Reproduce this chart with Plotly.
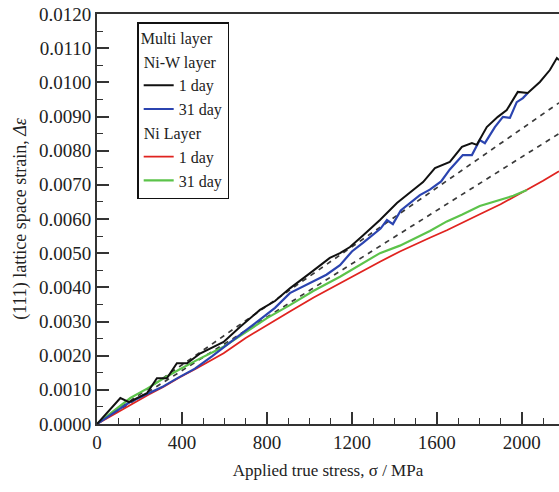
import plotly.graph_objects as go

# Ni-W layer, 1 day (black)
niw_1d_x = [0, 50, 110, 151, 235, 282, 329, 376, 424, 487, 596, 673, 767, 838, 908, 1000, 1096, 1144,
            1191, 1252, 1332, 1412, 1488, 1535, 1591, 1661, 1718, 1765, 1788, 1835, 1887, 1929, 1981,
            2028, 2085, 2132, 2165, 2175]
niw_1d_y = [0, 0.00035, 0.00076, 0.00064, 0.0009, 0.00134, 0.00134, 0.00178, 0.00178, 0.00207, 0.0024,
            0.00284, 0.00334, 0.0036, 0.00397, 0.0044, 0.00486, 0.005, 0.00518, 0.00552, 0.00597, 0.00647,
            0.00685, 0.00708, 0.00749, 0.00767, 0.00811, 0.00822, 0.00817, 0.00869, 0.00899, 0.00919,
            0.00972, 0.00969, 0.01001, 0.01036, 0.01071, 0.01065]

# Ni-W layer, 31 day (blue)
niw_31d_x = [0, 71, 150, 226, 306, 381, 461, 541, 616, 696, 776, 838, 908, 960, 1020, 1080, 1144, 1200,
             1252, 1300, 1335, 1365, 1393, 1430, 1470, 1520, 1567, 1620, 1661, 1722, 1765, 1802, 1826,
             1873, 1911, 1944, 1976, 2005, 2028]
niw_31d_y = [0, 0.0003, 0.00062, 0.00085, 0.00108, 0.00135, 0.00162, 0.00198, 0.00235, 0.00272, 0.0031,
             0.0034, 0.00383, 0.004, 0.00418, 0.00437, 0.00465, 0.00505, 0.0053, 0.00555, 0.00572, 0.00597,
             0.00585, 0.00625, 0.00645, 0.0067, 0.00686, 0.0071, 0.00745, 0.00787, 0.00787, 0.00831,
             0.00822, 0.00869, 0.00899, 0.00896, 0.00942, 0.00954, 0.00969]

# Ni layer, 1 day (red)
ni_1d_x = [0, 80, 157, 240, 314, 390, 470, 596, 700, 800, 908, 1020, 1144, 1240, 1332, 1426, 1500, 1567,
           1647, 1720, 1802, 1900, 1960, 2024, 2100, 2175]
ni_1d_y = [0, 0.00028, 0.00057, 0.00085, 0.00109, 0.00137, 0.00163, 0.00207, 0.00252, 0.00288, 0.00329,
           0.0037, 0.00412, 0.00445, 0.00475, 0.00505, 0.00527, 0.00545, 0.00567, 0.0059, 0.00614, 0.00643,
           0.00663, 0.00685, 0.00712, 0.0074]

# Ni layer, 31 day (green)
ni_31d_x = [0, 80, 157, 240, 314, 390, 470, 596, 700, 800, 908, 1020, 1144, 1240, 1332, 1426, 1500, 1567,
            1647, 1720, 1802, 1900, 1960, 2024]
ni_31d_y = [0, 0.00038, 0.00076, 0.00105, 0.00134, 0.0016, 0.00187, 0.00226, 0.0027, 0.0031, 0.00348,
            0.0039, 0.00431, 0.00465, 0.005, 0.00522, 0.00545, 0.00565, 0.00593, 0.00613, 0.00638, 0.00657,
            0.00668, 0.00685]

# dashed reference lines
fit_x = [0, 2175]
fit_upper_y = [0, 0.0094]
fit_lower_y = [0, 0.0085]

serif = "Liberation Serif, Times New Roman, serif"

fig = go.Figure()
for fy in [fit_upper_y, fit_lower_y]:
    fig.add_trace(go.Scatter(x=fit_x, y=fy, mode="lines", showlegend=False,
                             line=dict(color="#3a3a3a", width=1.7, dash="5px,5px")))

fig.add_trace(go.Scatter(x=ni_1d_x, y=ni_1d_y, mode="lines", name="1 day",
                         legendgroup="ni", legendgrouptitle_text="Ni Layer", legendrank=3,
                         line=dict(color="#e0231f", width=1.8)))
fig.add_trace(go.Scatter(x=ni_31d_x, y=ni_31d_y, mode="lines", name="31 day",
                         legendgroup="ni", legendrank=4,
                         line=dict(color="#5cc34a", width=2.2)))
fig.add_trace(go.Scatter(x=niw_31d_x, y=niw_31d_y, mode="lines", name="31 day",
                         legendgroup="niw", legendrank=2,
                         line=dict(color="#2b44b0", width=2.2)))
fig.add_trace(go.Scatter(x=niw_1d_x, y=niw_1d_y, mode="lines", name="1 day",
                         legendgroup="niw", legendgrouptitle_text="Ni-W layer", legendrank=1,
                         line=dict(color="#111111", width=2)))

fig.update_layout(
    width=559, height=492,
    margin=dict(l=97, r=0, t=14, b=68),
    paper_bgcolor="white", plot_bgcolor="white",
    font=dict(family=serif, size=19, color="#222"),
    legend=dict(title=dict(text="Multi layer", font=dict(size=16)),
                x=0.087, y=0.98, xanchor="left", yanchor="top",
                bordercolor="#111", borderwidth=1.5, bgcolor="white",
                tracegroupgap=0, traceorder="grouped", itemwidth=30,
                font=dict(size=16), grouptitlefont=dict(size=16)),
    xaxis=dict(range=[0, 2175], dtick=400, tick0=0, ticks="inside", ticklen=12, tickwidth=1.5,
               tickcolor="#333", showline=True, linecolor="#333", linewidth=2, mirror=True,
               showgrid=False, zeroline=False, automargin=False,
               minor=dict(dtick=100, ticks="inside", ticklen=6, tickwidth=1.2, tickcolor="#333"),
               title=dict(text="Applied true stress, σ / MPa", font=dict(size=17), standoff=12)),
    yaxis=dict(range=[0, 0.012], dtick=0.001, tick0=0, tickformat=".4f", ticks="inside",
               ticklen=12, tickwidth=1.5, tickcolor="#333", showline=True, linecolor="#333",
               linewidth=2, mirror=False, showgrid=False, zeroline=False, automargin=False,
               minor=dict(dtick=0.0005, ticks="inside", ticklen=6, tickwidth=1.2, tickcolor="#333"),
               title=dict(text="(111) lattice space strain, <i>Δε</i>", font=dict(size=18), standoff=8)),
)

# drop the default 8px page margin so the figure sits at the window corner
fig.write_html("out.html", config={"displayModeBar": False},
               post_script="document.body.style.margin='0';")
